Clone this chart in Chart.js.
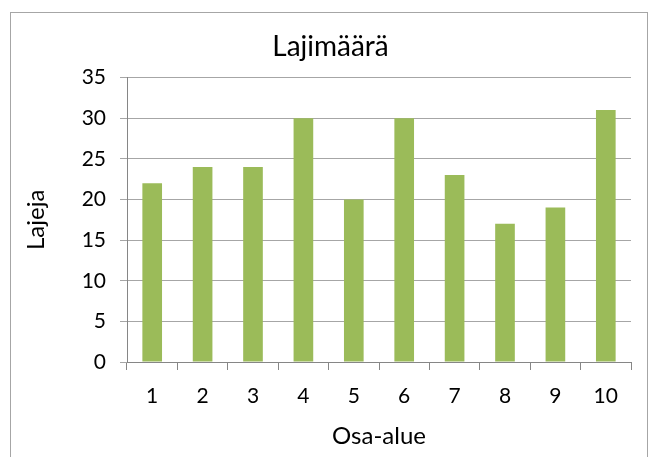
<!DOCTYPE html>
<html lang="fi">
<head>
  <meta charset="UTF-8">
  <title>Lajimäärä</title>
  <script src="https://cdn.jsdelivr.net/npm/chart.js"></script>
  <style>
    body { margin: 0; background: #fff; }
    .chart-container { width: 652px; height: 457px; position: relative; }
  </style>
</head>
<body>
  <div class="chart-container">
    <canvas id="lajiChart"></canvas>
  </div>

  <script>
    // Data
    const areas = ['1', '2', '3', '4', '5', '6', '7', '8', '9', '10'];
    const speciesCounts = [22, 24, 24, 30, 20, 30, 23, 17, 19, 31];
    const yMax = 35;
    const yStep = 5;

    const fontFamily = 'Lato, "Open Sans", sans-serif';

    // Light grey frame round the whole chart
    const framePlugin = {
      id: 'frame',
      beforeDraw(chart) {
        const c = chart.ctx;
        c.save();
        c.fillStyle = '#fff';
        c.fillRect(0, 0, chart.width, chart.height);
        c.strokeStyle = '#a6a6a6';
        c.lineWidth = 1;
        c.strokeRect(10.5, 12.5, 637, 460);
        c.restore();
      }
    };

    const ctx = document.getElementById('lajiChart').getContext('2d');
    const chart = new Chart(ctx, {
      type: 'bar',
      data: {
        labels: areas,
        datasets: [{
          label: 'Lajimäärä',
          data: speciesCounts,
          backgroundColor: '#9bbb59',
          barPercentage: 0.39,
          categoryPercentage: 1.0
        }]
      },
      options: {
        responsive: true,
        maintainAspectRatio: false,
        animation: false,
        // left padding pushes the title toward the plot centre
        layout: { padding: { left: 30, right: 21, top: 0, bottom: 0 } },
        plugins: {
          legend: { display: false },
          tooltip: { enabled: false },
          title: {
            display: true,
            text: 'Lajimäärä',
            color: '#000',
            font: { family: fontFamily, size: 28, weight: 'normal' },
            padding: { top: 30, bottom: 14 }
          }
        },
        scales: {
          x: {
            grid: {
              display: true,
              drawOnChartArea: false,
              drawTicks: true,
              tickLength: 8,
              color: '#868686'
            },
            border: { color: '#868686', width: 1 },
            ticks: {
              color: '#000',
              font: { family: fontFamily, size: 21 },
              padding: 14
            },
            title: {
              display: true,
              text: 'Osa-alue',
              color: '#000',
              font: { family: fontFamily, size: 24 },
              padding: { top: 4, bottom: 6 }
            },
            afterFit(scale) { scale.height = 95; }
          },
          y: {
            min: 0,
            max: yMax,
            grid: {
              color: '#a6a6a6',
              tickLength: 7,
              drawTicks: true
            },
            border: { color: '#868686', width: 1 },
            ticks: {
              stepSize: yStep,
              color: '#000',
              font: { family: fontFamily, size: 21 },
              padding: 14
            },
            title: {
              display: true,
              text: 'Lajeja',
              color: '#000',
              font: { family: fontFamily, size: 24 },
              padding: { top: -8, bottom: 0 }
            },
            afterFit(scale) { scale.width = 97; }
          }
        }
      },
      plugins: [framePlugin]
    });
  </script>
</body>
</html>
